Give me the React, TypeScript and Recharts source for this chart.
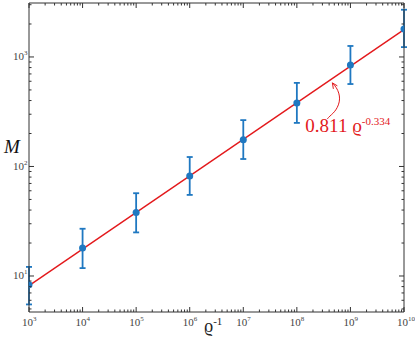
import {
  ComposedChart,
  Line,
  Scatter,
  ErrorBar,
  XAxis,
  YAxis,
  ReferenceDot,
} from "recharts";

// rho^-1 values (x), mean M with lower/upper error bounds (y)
const rhoInv = [1e3, 1e4, 1e5, 1e6, 1e7, 1e8, 1e9, 1e10];
const mMean = [8.3, 18, 38, 82, 175, 380, 845, 1800];
const mLow = [5.5, 11.8, 25, 55, 117, 250, 566, 1230];
const mHigh = [12.1, 27, 57, 122, 265, 580, 1260, 2700];

// fitted power law 0.811 rho^-0.334, endpoints
const fitX = [1e3, 1e10];
const fitM = [8.15, 1775];

// where the annotation arrow points
const arrowX = 4.6e8;
const arrowM = 580;

const xTicks: number[] = [];
for (let e = 3; e <= 10; e++) {
  for (let m = 1; m <= 9; m++) {
    const v = m * Math.pow(10, e);
    if (v <= 1e10) xTicks.push(v);
  }
}
const yTicks: number[] = [];
for (let e = 0; e <= 3; e++) {
  for (let m = 1; m <= 9; m++) {
    const v = m * Math.pow(10, e);
    if (v >= 4.7 && v <= 3100) yTicks.push(v);
  }
}

const points = rhoInv.map((x, i) => ({
  x,
  m: mMean[i],
  err: [mMean[i] - mLow[i], mHigh[i] - mMean[i]],
}));
const fitData = fitX.map((x, i) => ({ x, fit: fitM[i] }));

const RED = "#e3191c";
const BLUE = "#1f78c1";
const AXIS = "#333";
const LABEL = "#444";
const serif = {
  fontFamily: '"Times New Roman", "Liberation Serif", "DejaVu Serif", "Noto Serif", Times, serif',
};

const isMajor = (v: number) => {
  const l = Math.log10(v);
  return Math.abs(l - Math.round(l)) < 1e-9;
};

function BottomTick(props: any) {
  const { x, y, payload } = props;
  const major = isMajor(payload.value);
  return (
    <g>
      <line x1={x} y1={y} x2={x} y2={y - (major ? 5 : 2.5)} stroke={AXIS} />
      {major && (
        <text x={x - 7} y={y + 14} fontSize={11} fill={LABEL} style={serif}>
          10
          <tspan dy={-5} fontSize={7}>
            {Math.round(Math.log10(payload.value))}
          </tspan>
        </text>
      )}
    </g>
  );
}

function TopTick(props: any) {
  const { x, y, payload } = props;
  const major = isMajor(payload.value);
  return <line x1={x} y1={y} x2={x} y2={y + (major ? 5 : 2.5)} stroke={AXIS} />;
}

function LeftTick(props: any) {
  const { x, y, payload } = props;
  const major = isMajor(payload.value);
  return (
    <g>
      <line x1={x} y1={y} x2={x + (major ? 5 : 2.5)} y2={y} stroke={AXIS} />
      {major && (
        <text x={x - 16} y={y + 3.5} fontSize={11} fill={LABEL} style={serif}>
          10
          <tspan dy={-5} fontSize={7}>
            {Math.round(Math.log10(payload.value))}
          </tspan>
        </text>
      )}
    </g>
  );
}

function RightTick(props: any) {
  const { x, y, payload } = props;
  const major = isMajor(payload.value);
  return <line x1={x} y1={y} x2={x - (major ? 5 : 2.5)} y2={y} stroke={AXIS} />;
}

function Annotation(props: any) {
  const { cx, cy } = props;
  return (
    <g>
      <path
        d={`M${cx},${cy} C${cx + 6},${cy + 6} ${cx + 9},${cy + 14} ${cx + 6},${cy + 22} S${cx - 2},${cy + 32} ${cx - 5},${cy + 36}`}
        fill="none"
        stroke={RED}
        strokeWidth={1}
      />
      <path
        d={`M${cx},${cy} L${cx + 1},${cy + 6} M${cx},${cy} L${cx + 5},${cy + 3}`}
        stroke={RED}
        strokeWidth={1}
        fill="none"
      />
      <text x={cx - 27} y={cy + 49} fontSize={19} fill={RED} style={serif}>
        0.811 ϱ
        <tspan dy={-7} fontSize={11}>
          -0.334
        </tspan>
      </text>
    </g>
  );
}

export default function App() {
  return (
    <div style={{ position: "absolute", left: 0, top: 0, width: 415, height: 338 }}>
      <ComposedChart
        width={415}
        height={338}
        data={fitData}
        margin={{ top: 0, right: 0, bottom: 0, left: 0 }}
      >
        <XAxis
          dataKey="x"
          type="number"
          scale="log"
          domain={[1e3, 1e10]}
          allowDataOverflow
          ticks={xTicks}
          interval={0}
          tickSize={0}
          tickMargin={0}
          tickLine={false}
          tick={<BottomTick />}
          height={26}
          axisLine={{ stroke: AXIS }}
        />
        <XAxis
          xAxisId="top"
          orientation="top"
          dataKey="x"
          type="number"
          scale="log"
          domain={[1e3, 1e10]}
          allowDataOverflow
          ticks={xTicks}
          interval={0}
          tickSize={0}
          tickMargin={0}
          tickLine={false}
          tick={<TopTick />}
          height={3}
          axisLine={{ stroke: AXIS }}
        />
        <YAxis
          type="number"
          scale="log"
          domain={[4.69, 3110]}
          allowDataOverflow
          ticks={yTicks}
          interval={0}
          tickSize={0}
          tickMargin={0}
          tickLine={false}
          tick={<LeftTick />}
          width={29}
          axisLine={{ stroke: AXIS }}
        />
        <YAxis
          yAxisId="right"
          orientation="right"
          type="number"
          scale="log"
          domain={[4.69, 3110]}
          allowDataOverflow
          ticks={yTicks}
          interval={0}
          tickSize={0}
          tickMargin={0}
          tickLine={false}
          tick={<RightTick />}
          width={11}
          axisLine={{ stroke: AXIS }}
        />
        <Line
          dataKey="fit"
          stroke={RED}
          strokeWidth={1.5}
          dot={false}
          isAnimationActive={false}
        />
        <Scatter
          data={points}
          dataKey="m"
          fill={BLUE}
          isAnimationActive={false}
          shape={(p: any) => <circle cx={p.cx} cy={p.cy} r={3.5} fill={BLUE} />}
        >
          <ErrorBar dataKey="err" direction="y" width={3} stroke={BLUE} strokeWidth={1.8} />
        </Scatter>
        <ReferenceDot x={arrowX} y={arrowM} shape={<Annotation />} />
        <text x={4} y={153} fontSize={19} fontStyle="italic" style={serif} fill="#111">
          M
        </text>
        <text x={204} y={332} fontSize={18} style={serif} fill="#222">
          ϱ
          <tspan dy={-7} fontSize={11}>
            -1
          </tspan>
        </text>
      </ComposedChart>
    </div>
  );
}
